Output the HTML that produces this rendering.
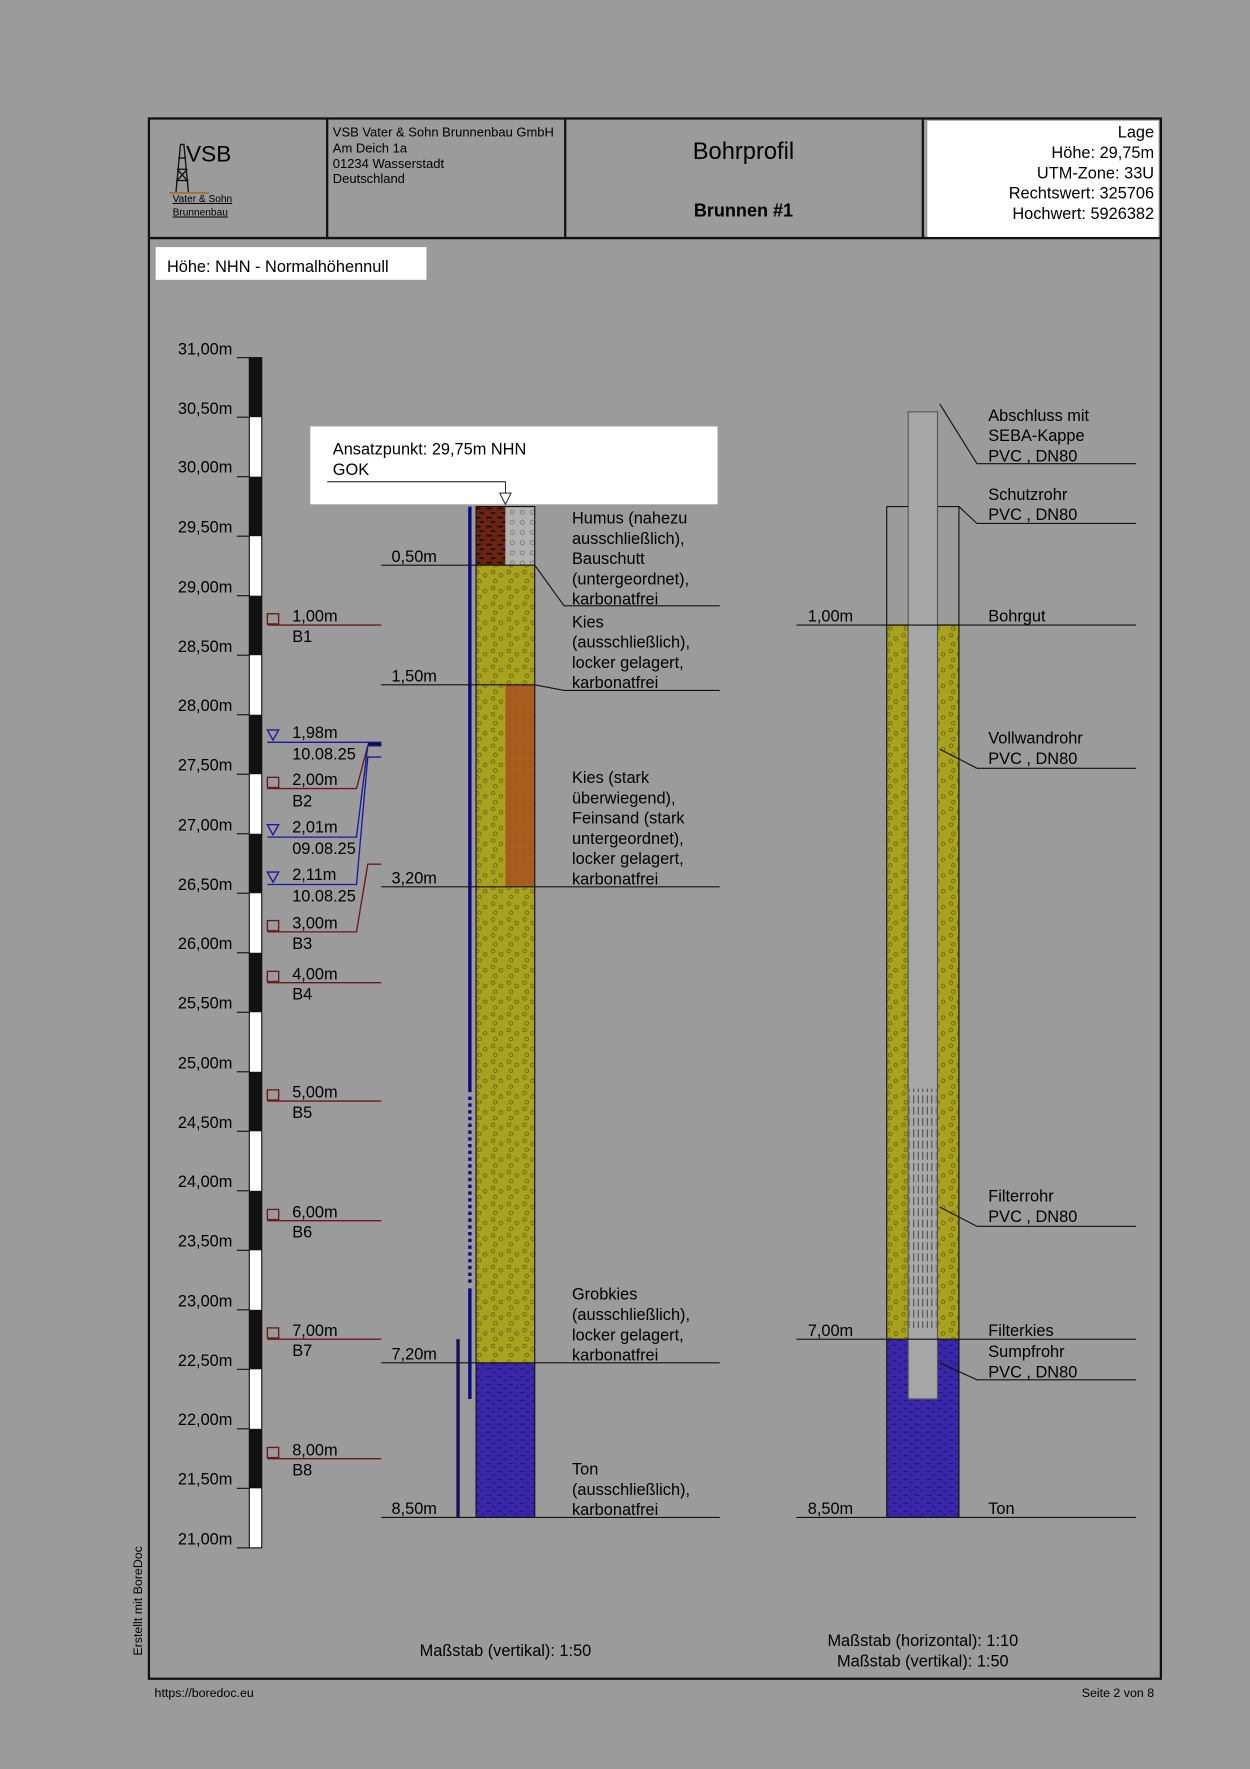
<!DOCTYPE html>
<html><head><meta charset="utf-8">
<style>
html,body{margin:0;padding:0;background:#9b9b9b;}
svg{display:block;}
text{font-family:"Liberation Sans",sans-serif;fill:#000;}
</style></head>
<body>
<svg width="1250" height="1769" viewBox="0 0 1108 1568" xmlns="http://www.w3.org/2000/svg">
<defs>
<pattern id="kies" width="14" height="14" patternUnits="userSpaceOnUse">
<rect width="14" height="14" fill="#a9a21e"/>
<circle cx="3" cy="3" r="1.6" fill="none" stroke="#5e5a10" stroke-width="0.7"/>
<circle cx="10" cy="6" r="1.6" fill="none" stroke="#5e5a10" stroke-width="0.7"/>
<circle cx="5" cy="11" r="1.6" fill="none" stroke="#5e5a10" stroke-width="0.7"/>
</pattern>
<pattern id="schutt" width="9" height="9" patternUnits="userSpaceOnUse">
<rect width="9" height="9" fill="#b2b2b2"/>
<circle cx="4" cy="4" r="1.8" fill="none" stroke="#666" stroke-width="0.6"/>
</pattern>
<pattern id="humus" width="10" height="8" patternUnits="userSpaceOnUse">
<rect width="10" height="8" fill="#6e2210"/>
<rect x="1" y="2" width="5" height="1.5" fill="#111"/>
<rect x="5" y="6" width="4" height="1.5" fill="#111"/>
</pattern>
<pattern id="ton" width="10" height="7" patternUnits="userSpaceOnUse">
<rect width="10" height="7" fill="#3a26a8"/>
<rect x="1" y="2" width="4" height="0.8" fill="#1c1060"/>
<rect x="6" y="5" width="3" height="0.8" fill="#1c1060"/>
</pattern>
<pattern id="sand" width="6" height="6" patternUnits="userSpaceOnUse">
<rect width="6" height="6" fill="#a85c1e"/>
<circle cx="2" cy="2" r="0.4" fill="#6a3a10"/>
</pattern>
<pattern id="filt" width="4" height="10" patternUnits="userSpaceOnUse">
<rect width="4" height="10" fill="#a9a9a9"/>
<rect x="1.5" y="1" width="0.9" height="7" fill="#444"/>
</pattern>
</defs>

<!-- frame -->
<rect x="132" y="105" width="897" height="1383" fill="#9b9b9b" stroke="#111" stroke-width="2"/>
<line x1="132" y1="211" x2="1029" y2="211" stroke="#111" stroke-width="2"/>
<line x1="290" y1="105" x2="290" y2="211" stroke="#111" stroke-width="2"/>
<line x1="501" y1="105" x2="501" y2="211" stroke="#111" stroke-width="2"/>
<line x1="818" y1="105" x2="818" y2="211" stroke="#111" stroke-width="2"/>
<rect x="822" y="107" width="205" height="103" fill="#fff"/>

<!-- logo -->
<g stroke="#111" stroke-width="1.2" fill="none">
<path d="M156 170 L160 128 L163 128 L167 170"/>
<line x1="157" y1="150" x2="166" y2="150"/><line x1="156" y1="160" x2="167" y2="160"/>
<line x1="157" y1="150" x2="166" y2="160"/><line x1="166" y1="150" x2="157" y2="160"/>
<line x1="158" y1="140" x2="165" y2="140"/>
</g>
<line x1="150" y1="171" x2="185" y2="171" stroke="#a86a1e" stroke-width="1.5"/>
<text x="165" y="143" font-size="20">VSB</text>
<text x="153" y="179" font-size="9" text-decoration="underline">Vater &amp; Sohn</text>
<text x="153" y="191" font-size="9" text-decoration="underline">Brunnenbau</text>

<g font-size="11.5">
<text x="295" y="121">VSB Vater &amp; Sohn Brunnenbau GmbH</text>
<text x="295" y="135">Am Deich 1a</text>
<text x="295" y="149">01234 Wasserstadt</text>
<text x="295" y="162">Deutschland</text>
</g>
<text x="659" y="141" font-size="21" text-anchor="middle">Bohrprofil</text>
<text x="659" y="192" font-size="16" font-weight="bold" text-anchor="middle">Brunnen #1</text>
<g font-size="14.5" text-anchor="end">
<text x="1023" y="122">Lage</text>
<text x="1023" y="140">Höhe: 29,75m</text>
<text x="1023" y="158">UTM-Zone: 33U</text>
<text x="1023" y="176">Rechtswert: 325706</text>
<text x="1023" y="194">Hochwert: 5926382</text>
</g>

<rect x="138" y="219" width="240" height="29" fill="#fff"/>
<text x="148" y="241" font-size="14.5">Höhe: NHN - Normalhöhennull</text>

<!-- scale bar -->
<rect x="221" y="317" width="11" height="1055" fill="#fff" stroke="#111" stroke-width="1"/>
<g fill="#111">
<rect x="221" y="317" width="11" height="52.75"/>
<rect x="221" y="422.5" width="11" height="52.75"/>
<rect x="221" y="528" width="11" height="52.75"/>
<rect x="221" y="633.5" width="11" height="52.75"/>
<rect x="221" y="739" width="11" height="52.75"/>
<rect x="221" y="844.5" width="11" height="52.75"/>
<rect x="221" y="950" width="11" height="52.75"/>
<rect x="221" y="1055.5" width="11" height="52.75"/>
<rect x="221" y="1161" width="11" height="52.75"/>
<rect x="221" y="1266.5" width="11" height="52.75"/>
</g>
<g stroke="#111" stroke-width="1">
<line x1="210" y1="317" x2="221" y2="317"/><line x1="210" y1="369.75" x2="221" y2="369.75"/>
<line x1="210" y1="422.5" x2="221" y2="422.5"/><line x1="210" y1="475.25" x2="221" y2="475.25"/>
<line x1="210" y1="528" x2="221" y2="528"/><line x1="210" y1="580.75" x2="221" y2="580.75"/>
<line x1="210" y1="633.5" x2="221" y2="633.5"/><line x1="210" y1="686.25" x2="221" y2="686.25"/>
<line x1="210" y1="739" x2="221" y2="739"/><line x1="210" y1="791.75" x2="221" y2="791.75"/>
<line x1="210" y1="844.5" x2="221" y2="844.5"/><line x1="210" y1="897.25" x2="221" y2="897.25"/>
<line x1="210" y1="950" x2="221" y2="950"/><line x1="210" y1="1002.75" x2="221" y2="1002.75"/>
<line x1="210" y1="1055.5" x2="221" y2="1055.5"/><line x1="210" y1="1108.25" x2="221" y2="1108.25"/>
<line x1="210" y1="1161" x2="221" y2="1161"/><line x1="210" y1="1213.75" x2="221" y2="1213.75"/>
<line x1="210" y1="1266.5" x2="221" y2="1266.5"/><line x1="210" y1="1319.25" x2="221" y2="1319.25"/>
<line x1="210" y1="1372" x2="221" y2="1372"/>
</g>
<g font-size="14.5" text-anchor="end">
<text x="206" y="314">31,00m</text><text x="206" y="367">30,50m</text>
<text x="206" y="419">30,00m</text><text x="206" y="472">29,50m</text>
<text x="206" y="525">29,00m</text><text x="206" y="578">28,50m</text>
<text x="206" y="630">28,00m</text><text x="206" y="683">27,50m</text>
<text x="206" y="736">27,00m</text><text x="206" y="789">26,50m</text>
<text x="206" y="841">26,00m</text><text x="206" y="894">25,50m</text>
<text x="206" y="947">25,00m</text><text x="206" y="1000">24,50m</text>
<text x="206" y="1052">24,00m</text><text x="206" y="1105">23,50m</text>
<text x="206" y="1158">23,00m</text><text x="206" y="1211">22,50m</text>
<text x="206" y="1263">22,00m</text><text x="206" y="1316">21,50m</text>
<text x="206" y="1369">21,00m</text>
</g>

<!-- samples -->
<g stroke="#6b1a1a" stroke-width="1.2" fill="none">
<rect x="237" y="544" width="10" height="9"/><polyline points="237,554 338,554"/>
<rect x="237" y="689" width="10" height="9"/><polyline points="237,699 316,699 326,661 338,661"/>
<rect x="237" y="816" width="10" height="9"/><polyline points="237,826 316,826 326,766 338,766"/>
<rect x="237" y="861" width="10" height="9"/><polyline points="237,871 338,871"/>
<rect x="237" y="966" width="10" height="9"/><polyline points="237,976 338,976"/>
<rect x="237" y="1072" width="10" height="9"/><polyline points="237,1082 338,1082"/>
<rect x="237" y="1177" width="10" height="9"/><polyline points="237,1187 338,1187"/>
<rect x="237" y="1283" width="10" height="9"/><polyline points="237,1293 338,1293"/>
</g>
<g stroke="#1a1aa0" stroke-width="1.2" fill="none">
<path d="M237 647 L247 647 L242 656 Z"/><polyline points="237,658 338,658"/>
<path d="M237 731 L247 731 L242 740 Z"/><polyline points="237,742 316,742 326,661 338,661"/>
<path d="M237 773 L247 773 L242 782 Z"/><polyline points="237,784 316,784 326,671 338,671"/>
</g>
<line x1="326" y1="659.5" x2="338" y2="659.5" stroke="#101050" stroke-width="2.5"/>
<g font-size="14.5">
<text x="259" y="551">1,00m</text><text x="259" y="569">B1</text>
<text x="259" y="654">1,98m</text><text x="259" y="673">10.08.25</text>
<text x="259" y="696">2,00m</text><text x="259" y="715">B2</text>
<text x="259" y="738">2,01m</text><text x="259" y="757">09.08.25</text>
<text x="259" y="780">2,11m</text><text x="259" y="799">10.08.25</text>
<text x="259" y="823">3,00m</text><text x="259" y="841">B3</text>
<text x="259" y="868">4,00m</text><text x="259" y="886">B4</text>
<text x="259" y="973">5,00m</text><text x="259" y="991">B5</text>
<text x="259" y="1079">6,00m</text><text x="259" y="1097">B6</text>
<text x="259" y="1184">7,00m</text><text x="259" y="1202">B7</text>
<text x="259" y="1290">8,00m</text><text x="259" y="1308">B8</text>
</g>

<!-- Ansatzpunkt -->
<rect x="275" y="378" width="361" height="69" fill="#fff"/>
<text x="295" y="403" font-size="14.5">Ansatzpunkt: 29,75m NHN</text>
<text x="295" y="421" font-size="14.5">GOK</text>
<polyline points="290,427 448,427 448,437" fill="none" stroke="#111" stroke-width="0.8"/>
<path d="M443 437 L453 437 L448 447 Z" fill="#fff" stroke="#111" stroke-width="0.8"/>

<!-- profile column -->
<rect x="422" y="449" width="26" height="52" fill="url(#humus)"/>
<rect x="448" y="449" width="26" height="52" fill="url(#schutt)"/>
<rect x="422" y="501" width="52" height="106" fill="url(#kies)"/>
<rect x="422" y="607" width="26" height="179" fill="url(#kies)"/>
<rect x="448" y="607" width="26" height="179" fill="url(#sand)"/>
<rect x="422" y="786" width="52" height="422" fill="url(#kies)"/>
<rect x="422" y="1208" width="52" height="137" fill="url(#ton)"/>
<rect x="422" y="449" width="52" height="896" fill="none" stroke="#111" stroke-width="1"/>

<line x1="416.5" y1="449" x2="416.5" y2="968" stroke="#0a0a80" stroke-width="3"/>
<line x1="416.5" y1="972" x2="416.5" y2="1138" stroke="#0a0a80" stroke-width="3" stroke-dasharray="3,3"/>
<line x1="416.5" y1="1142" x2="416.5" y2="1240" stroke="#0a0a80" stroke-width="3"/>
<line x1="406" y1="1187" x2="406" y2="1345" stroke="#1a1050" stroke-width="3"/>

<g stroke="#111" stroke-width="1" fill="none">
<line x1="338" y1="501" x2="474" y2="501"/><polyline points="474,501 500,537 638,537"/>
<line x1="338" y1="607" x2="474" y2="607"/><polyline points="474,607 500,612 638,612"/>
<line x1="338" y1="786" x2="638" y2="786"/>
<line x1="338" y1="1208" x2="638" y2="1208"/>
<line x1="338" y1="1345" x2="638" y2="1345"/>
</g>
<g font-size="14.5">
<text x="347" y="498">0,50m</text>
<text x="347" y="604">1,50m</text>
<text x="347" y="783">3,20m</text>
<text x="347" y="1205">7,20m</text>
<text x="347" y="1342">8,50m</text>
<text x="507" y="464">Humus  (nahezu</text>
<text x="507" y="482">ausschließlich),</text>
<text x="507" y="500">Bauschutt</text>
<text x="507" y="518">(untergeordnet),</text>
<text x="507" y="536">karbonatfrei</text>
<text x="507" y="556">Kies</text>
<text x="507" y="574">(ausschließlich),</text>
<text x="507" y="592">locker  gelagert,</text>
<text x="507" y="610">karbonatfrei</text>
<text x="507" y="694">Kies  (stark</text>
<text x="507" y="712">überwiegend),</text>
<text x="507" y="730">Feinsand  (stark</text>
<text x="507" y="748">untergeordnet),</text>
<text x="507" y="766">locker  gelagert,</text>
<text x="507" y="784">karbonatfrei</text>
<text x="507" y="1152">Grobkies</text>
<text x="507" y="1170">(ausschließlich),</text>
<text x="507" y="1188">locker  gelagert,</text>
<text x="507" y="1206">karbonatfrei</text>
<text x="507" y="1307">Ton</text>
<text x="507" y="1325">(ausschließlich),</text>
<text x="507" y="1343">karbonatfrei</text>
</g>

<!-- right well -->
<rect x="786" y="449" width="64" height="105" fill="#9b9b9b" stroke="#111" stroke-width="1"/>
<rect x="786" y="554" width="64" height="633" fill="url(#kies)"/>
<rect x="786" y="1187" width="64" height="158" fill="url(#ton)"/>
<rect x="786" y="554" width="64" height="791" fill="none" stroke="#111" stroke-width="1"/>
<rect x="805" y="365" width="26" height="875" fill="#a6a6a6" stroke="#555" stroke-width="1"/>
<rect x="806" y="965" width="24" height="212" fill="url(#filt)"/>
<g stroke="#111" stroke-width="1" fill="none">
<polyline points="833,358 866,411 1007,411"/>
<polyline points="850,449 866,464 1007,464"/>
<line x1="706" y1="554" x2="1007" y2="554"/>
<polyline points="833,664 866,681 1007,681"/>
<polyline points="833,1070 866,1087 1007,1087"/>
<line x1="706" y1="1187" x2="1007" y2="1187"/>
<polyline points="833,1208 866,1223 1007,1223"/>
<line x1="706" y1="1345" x2="1007" y2="1345"/>
</g>
<g font-size="14.5">
<text x="876" y="373">Abschluss  mit</text>
<text x="876" y="391">SEBA-Kappe</text>
<text x="876" y="409">PVC  ,  DN80</text>
<text x="876" y="443">Schutzrohr</text>
<text x="876" y="461">PVC  ,  DN80</text>
<text x="716" y="551">1,00m</text>
<text x="876" y="551">Bohrgut</text>
<text x="876" y="659">Vollwandrohr</text>
<text x="876" y="677">PVC  ,  DN80</text>
<text x="876" y="1065">Filterrohr</text>
<text x="876" y="1083">PVC  ,  DN80</text>
<text x="716" y="1184">7,00m</text>
<text x="876" y="1184">Filterkies</text>
<text x="876" y="1203">Sumpfrohr</text>
<text x="876" y="1221">PVC  ,  DN80</text>
<text x="716" y="1342">8,50m</text>
<text x="876" y="1342">Ton</text>
</g>

<g font-size="14.5" text-anchor="middle">
<text x="448" y="1468">Maßstab (vertikal): 1:50</text>
<text x="818" y="1459">Maßstab (horizontal): 1:10</text>
<text x="818" y="1477">Maßstab (vertikal): 1:50</text>
</g>
<text x="0" y="0" font-size="11" text-anchor="middle" transform="translate(126,1419) rotate(-90)">Erstellt mit BoreDoc</text>
<text x="137" y="1504" font-size="11">https://boredoc.eu</text>
<text x="1023" y="1504" font-size="11" text-anchor="end">Seite 2 von 8</text>
</svg>
</body></html>
